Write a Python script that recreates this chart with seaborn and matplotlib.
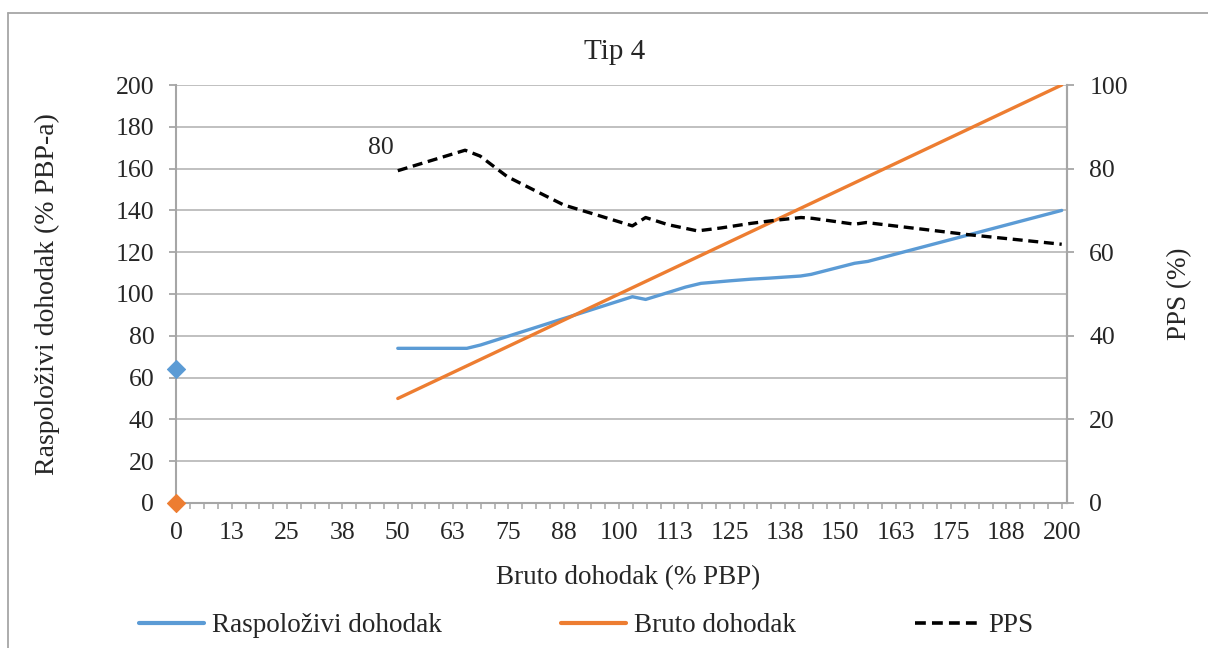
import matplotlib
matplotlib.use("Agg")
import matplotlib.pyplot as plt
from matplotlib.lines import Line2D
import seaborn as sns
import numpy as np

# Raspolozivi dohodak (lijeva os)
x_rasp = [50, 65.6, 68.7, 103, 106, 110, 115, 118.5, 125, 129.8, 134, 141, 143.4, 153.2, 156.2, 200]
y_rasp = [74, 74, 75.6, 98.7, 97.4, 100, 103.3, 105.1, 106.3, 107.1, 107.6, 108.6, 109.4, 114.7, 115.6, 140]
# Bruto dohodak (lijeva os)
x_bruto = [50, 200]
y_bruto = [50, 200]
# tocke na x = 0
x_zero = [0]
y_rasp_zero = [64]
y_bruto_zero = [0]
# PPS (desna os, %)
x_pps = [50, 65.2, 68.6, 74.7, 80.7, 87.5, 95, 103, 106, 111, 117.7, 123, 129.8, 135,
         141.1, 143.7, 153.2, 155.8, 178.9, 200]
y_pps = [79.5, 84.4, 83, 78.1, 74.9, 71.3, 68.9, 66.3, 68.3, 66.6, 65.1, 65.8, 66.9, 67.6,
         68.3, 68.1, 66.7, 67.1, 64.2, 61.9]
pps_label = "80"

x_ticks = [12.5 * i for i in range(17)]
x_tick_labels = ["0", "13", "25", "38", "50", "63", "75", "88", "100",
                 "113", "125", "138", "150", "163", "175", "188", "200"]

blue = "#5B9BD5"
orange = "#ED7D31"
grid_c = "#BBBBBB"
axis_c = "#A6A6A6"

sns.set_style("white")
plt.rcParams["font.family"] = ["Liberation Serif", "DejaVu Serif"]

fig = plt.figure(figsize=(12.08, 6.48), dpi=100)
ax = fig.add_axes([0.1461, 0.2238, 0.7372, 0.645])
ax2 = ax.twinx()

sns.lineplot(x=x_rasp, y=y_rasp, ax=ax, color=blue, lw=2.4, legend=False)
sns.lineplot(x=x_bruto, y=y_bruto, ax=ax, color=orange, lw=2.4, legend=False)
sns.scatterplot(x=x_zero, y=y_rasp_zero, ax=ax, color=blue, marker="D", s=85,
                edgecolor=blue, clip_on=False, zorder=5)
sns.scatterplot(x=x_zero, y=y_bruto_zero, ax=ax, color=orange, marker="D", s=85,
                edgecolor=orange, clip_on=False, zorder=5)

sns.lineplot(x=x_pps, y=y_pps, ax=ax2, color="black", lw=2.4, legend=False)
ax2.lines[-1].set_dashes((3, 1.7))
ax2.annotate(pps_label, (x_pps[0], y_pps[0]), xytext=(-17, 23), textcoords="offset pixels",
             ha="center", va="center", fontsize=18.5)

ax.set_xlim(0, 201.2)
ax.set_ylim(0, 200)
ax2.set_ylim(0, 100)
ax.set_yticks(range(0, 201, 20))
ax2.set_yticks(range(0, 101, 20))
ax.set_xticks(x_ticks)
ax.set_xticklabels(x_tick_labels)
ax.set_xticks(np.arange(3.125, 201, 3.125), minor=True)

ax.grid(axis="y", color=grid_c, lw=1.3)
ax.set_axisbelow(True)
for a in (ax, ax2):
    for s in a.spines.values():
        s.set_color(axis_c)
        s.set_linewidth(1.5)
    a.spines["top"].set_visible(False)
ax2.spines["left"].set_visible(False)
ax2.spines["bottom"].set_visible(False)

ax.tick_params(axis="y", length=5, width=1.3, color=axis_c, pad=11, labelsize=18.5, left=True)
ax2.tick_params(axis="y", length=5, width=1.3, color=axis_c, pad=11, labelsize=18.5, right=True)
ax.tick_params(axis="x", which="both", length=4.5, width=1.1, color=axis_c, pad=9,
               labelsize=18.5, bottom=True)

ax.set_ylabel("Raspoloživi dohodak (% PBP-a)", fontsize=20, va="center")
ax.yaxis.set_label_coords(-0.1454, 0.5)
ax2.set_ylabel("PPS (%)", fontsize=19.5, va="center", rotation=90)
ax2.yaxis.set_label_coords(1.1269, 0.5)
ax.set_xlabel("Bruto dohodak (% PBP)", fontsize=19.5, va="center")
ax.xaxis.set_label_coords(0.507, -0.179)
ax.set_title("Tip 4", fontsize=21, x=0.4924, y=1.079, va="center", pad=0)

handles = [Line2D([], [], color=blue, lw=3),
           Line2D([], [], color=orange, lw=3),
           Line2D([], [], color="black", lw=2.6, dashes=(3, 1.7))]
fig.legend(handles, ["Raspoloživi dohodak", "Bruto dohodak", "PPS"], loc="center",
           bbox_to_anchor=(0.485, 0.034), ncol=3, frameon=False, fontsize=19.5,
           handlelength=2.4, handletextpad=0.3, columnspacing=4.4)

# okvir grafikona (lijevi i gornji rub)
fig.add_artist(Line2D([0.007, 0.007], [0, 0.9807], color=axis_c, lw=1.3, transform=fig.transFigure))
fig.add_artist(Line2D([0.007, 1], [0.9807, 0.9807], color=axis_c, lw=1.3, transform=fig.transFigure))

fig.savefig("out.png", dpi=100)
